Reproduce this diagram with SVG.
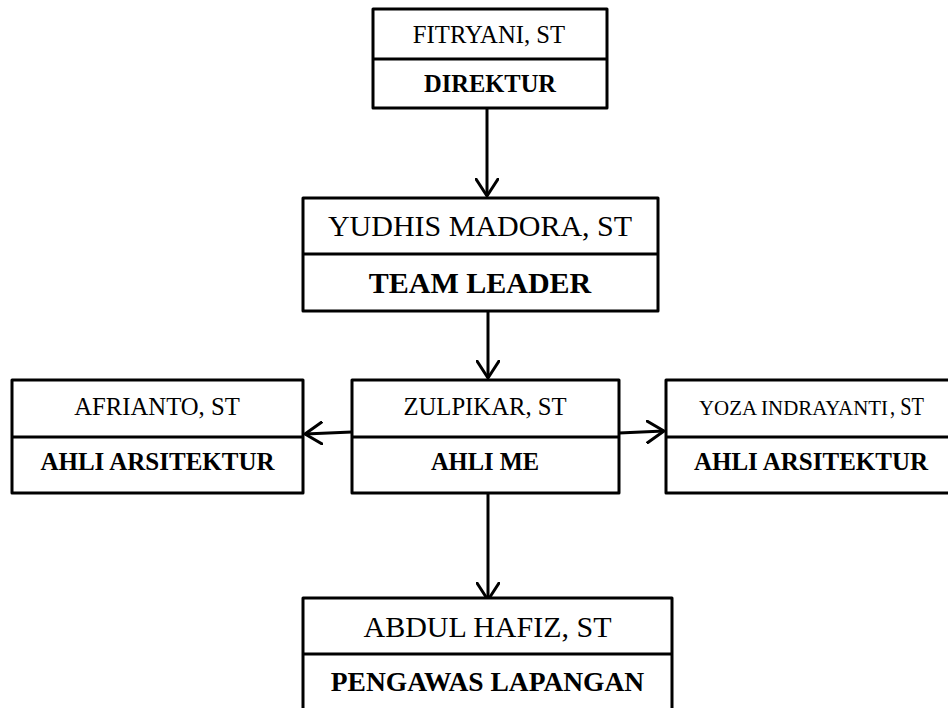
<svg xmlns="http://www.w3.org/2000/svg" width="948" height="708" viewBox="0 0 948 708">
<defs>
<style>
.box{fill:#fff;stroke:#000;stroke-width:3;stroke-linejoin:round}
.div{stroke:#000;stroke-width:3}
.name{font-family:"Liberation Serif","Times New Roman",serif;font-size:24.7px;fill:#000;text-anchor:middle}
.role{font-family:"Liberation Serif","Times New Roman",serif;font-size:24.5px;font-weight:bold;fill:#000;text-anchor:middle}
.big{font-size:30px}
.conn{fill:none;stroke:#000;stroke-width:3}
</style>
<marker id="arr" markerUnits="userSpaceOnUse" viewBox="0 0 20 24" refX="18" refY="12" markerWidth="20" markerHeight="24" orient="auto">
<path d="M1,1 L18,12 L1,23" fill="none" stroke="#000" stroke-width="3" stroke-linejoin="round" stroke-linecap="round"/>
</marker>
</defs>
<rect width="948" height="708" fill="#fff"/>
<g id="connectors">
<path class="conn" d="M487,108 L487,196" marker-end="url(#arr)"/>
<path class="conn" d="M488,311 L488,378" marker-end="url(#arr)"/>
<path class="conn" d="M352,432 L305,434" marker-end="url(#arr)"/>
<path class="conn" d="M619,433 L664,431" marker-end="url(#arr)"/>
<path class="conn" d="M488,493 L488,600" marker-end="url(#arr)"/>
</g>
<g id="direktur">
<rect class="box" x="373" y="9" width="234" height="99"/>
<line class="div" x1="373" y1="59" x2="607" y2="59"/>
<text class="name" x="489" y="43">FITRYANI, ST</text>
<text class="role" x="490" y="92">DIREKTUR</text>
</g>
<g id="teamleader">
<rect class="box" x="303" y="198" width="355" height="113"/>
<line class="div" x1="303" y1="254" x2="658" y2="254"/>
<text class="name big" x="480" y="236">YUDHIS MADORA, ST</text>
<text class="role big" x="480" y="293">TEAM LEADER</text>
</g>
<g id="afrianto">
<rect class="box" x="12" y="380" width="291" height="113"/>
<line class="div" x1="12" y1="437" x2="303" y2="437"/>
<text class="name" x="157" y="415">AFRIANTO, ST</text>
<text class="role" x="157.5" y="470" style="font-size:25px">AHLI ARSITEKTUR</text>
</g>
<g id="zulpikar">
<rect class="box" x="352" y="380" width="267" height="113"/>
<line class="div" x1="352" y1="437" x2="619" y2="437"/>
<text class="name" x="485" y="415">ZULPIKAR, ST</text>
<text class="role" x="485" y="470">AHLI ME</text>
</g>
<g id="yoza">
<rect class="box" x="666" y="380" width="300" height="113"/>
<line class="div" x1="666" y1="437" x2="966" y2="437"/>
<text class="name" x="699" y="415" style="text-anchor:start;font-size:21px" textLength="189" lengthAdjust="spacingAndGlyphs">YOZA INDRAYANTI</text>
<text class="name" x="890" y="415" style="text-anchor:start" textLength="34" lengthAdjust="spacingAndGlyphs">, ST</text>
<text class="role" x="811" y="470" style="font-size:25px">AHLI ARSITEKTUR</text>
</g>
<g id="abdulhafiz">
<rect class="box" x="303" y="598" width="369" height="130"/>
<line class="div" x1="303" y1="654" x2="672" y2="654"/>
<text class="name big" x="487.5" y="637">ABDUL HAFIZ, ST</text>
<text class="role" x="487.5" y="691" style="font-size:27.5px">PENGAWAS LAPANGAN</text>
</g>
</svg>
